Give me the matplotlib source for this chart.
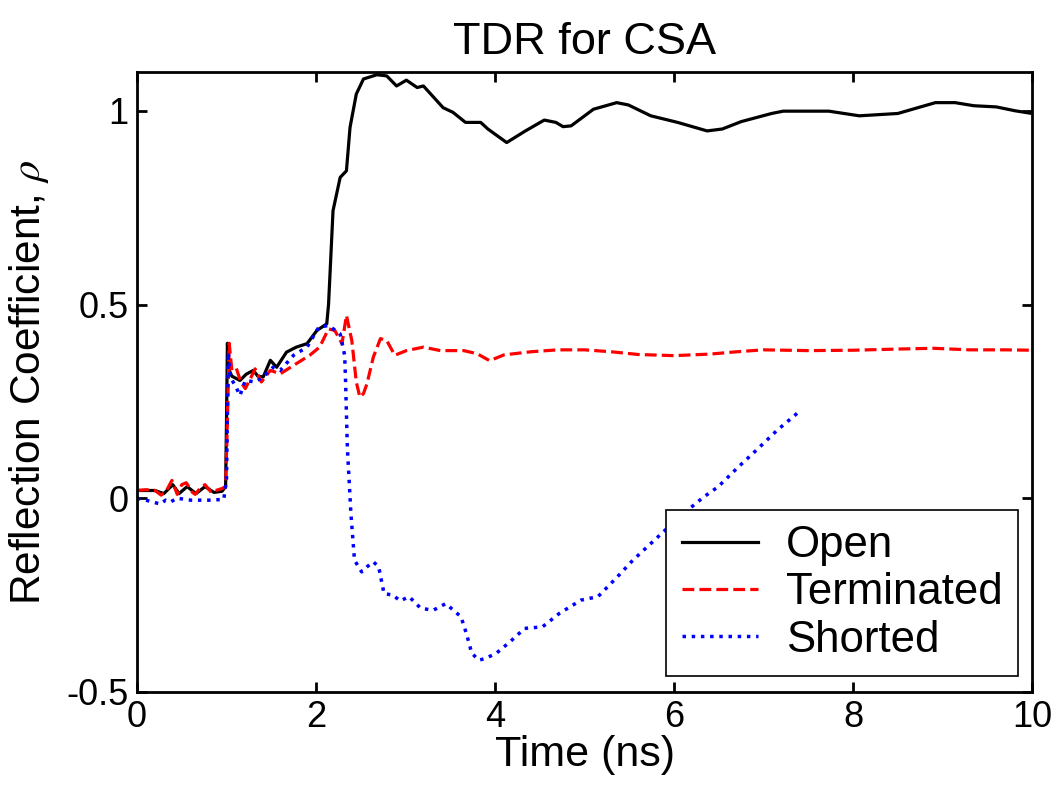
import matplotlib
matplotlib.use('Agg')
import matplotlib.pyplot as plt
import numpy as np

plt.rcParams['font.family'] = ['Liberation Sans', 'DejaVu Sans']
plt.rcParams['mathtext.fontset'] = 'stix'

# Open
t_open = [0.0, 0.2, 0.3, 0.4, 0.47, 0.56, 0.66, 0.76, 0.86, 0.95, 0.99, 1.0, 1.01, 1.03,
          1.06, 1.15, 1.22, 1.30, 1.35, 1.41, 1.49, 1.56, 1.67, 1.78, 1.90, 2.01, 2.12,
          2.14, 2.16, 2.19, 2.27, 2.34, 2.38, 2.45, 2.53, 2.68, 2.79, 2.90, 3.01, 3.13,
          3.20, 3.42, 3.53, 3.67, 3.84, 3.92, 4.13, 4.34, 4.55, 4.68, 4.76, 4.85, 5.10,
          5.36, 5.49, 5.74, 6.04, 6.37, 6.54, 6.75, 7.09, 7.22, 7.73, 8.07, 8.50, 8.92,
          9.14, 9.35, 9.60, 9.81, 10.0]
r_open = [0.02, 0.02, 0.012, 0.035, 0.012, 0.03, 0.012, 0.03, 0.015, 0.018, 0.03, 0.2, 0.40, 0.33,
          0.315, 0.304, 0.32, 0.33, 0.315, 0.313, 0.356, 0.338, 0.377, 0.39, 0.399, 0.433, 0.45,
          0.50, 0.596, 0.742, 0.828, 0.845, 0.957, 1.043, 1.082, 1.093, 1.09, 1.064, 1.079, 1.06,
          1.064, 1.008, 0.996, 0.970, 0.970, 0.953, 0.918, 0.948, 0.976, 0.970, 0.959, 0.961, 1.004,
          1.021, 1.015, 0.987, 0.970, 0.948, 0.953, 0.972, 0.993, 0.999, 0.999, 0.987, 0.993, 1.021,
          1.021, 1.013, 1.010, 1.0, 0.993]

# Terminated
t_term = [0.0, 0.1, 0.2, 0.27, 0.33, 0.39, 0.45, 0.5, 0.55, 0.62, 0.65, 0.72, 0.76, 0.83, 0.88,
          0.95, 0.99, 1.01, 1.03, 1.06, 1.11, 1.16, 1.21, 1.27, 1.32, 1.39, 1.49, 1.60, 1.75,
          1.93, 2.04, 2.14, 2.21, 2.29, 2.34, 2.40, 2.45, 2.49, 2.53, 2.57, 2.64, 2.72, 2.79,
          2.88, 3.01, 3.20, 3.39, 3.65, 3.80, 3.94, 4.1, 4.4, 4.7, 5.0, 5.3, 5.6, 6.0, 6.4,
          6.7, 7.0, 7.5, 8.0, 8.5, 8.9, 9.3, 9.7, 10.0]
r_term = [0.02, 0.022, 0.02, 0.008, 0.02, 0.046, 0.01, 0.035, 0.04, 0.015, 0.01, 0.03, 0.035, 0.015, 0.02,
          0.025, 0.03, 0.2, 0.40, 0.33, 0.335, 0.30, 0.283, 0.31, 0.334, 0.30, 0.33, 0.321, 0.343,
          0.369, 0.39, 0.437, 0.433, 0.399, 0.472, 0.407, 0.30, 0.261, 0.27, 0.296, 0.364, 0.412, 0.407,
          0.369, 0.381, 0.39, 0.381, 0.381, 0.373, 0.355, 0.370, 0.378, 0.383, 0.383, 0.378, 0.371, 0.368, 0.372,
          0.378, 0.383, 0.381, 0.382, 0.385, 0.387, 0.383, 0.383, 0.382]

# Shorted
t_short = [0.0, 0.1, 0.26, 0.32, 0.37, 0.45, 0.6, 0.8, 0.97, 1.0, 1.02, 1.04, 1.10, 1.15, 1.21,
           1.32, 1.41, 1.52, 1.60, 1.75, 1.90, 2.03, 2.14, 2.27, 2.32, 2.33, 2.35, 2.39, 2.43,
           2.51, 2.57, 2.64, 2.70, 2.76, 2.86, 2.94, 3.04, 3.17, 3.31, 3.45, 3.62, 3.68, 3.74,
           3.82, 3.90, 4.02, 4.17, 4.33, 4.53, 4.72, 4.96, 5.15, 5.35, 5.54, 5.74, 5.94, 6.13,
           6.33, 6.49, 6.72, 6.92, 7.15, 7.39]
r_short = [0.0, -0.005, -0.015, -0.005, -0.01, 0.0, -0.005, -0.005, -0.003, 0.05, 0.377, 0.313, 0.29, 0.265, 0.304,
           0.30, 0.313, 0.338, 0.33, 0.369, 0.39, 0.441, 0.446, 0.424, 0.369, 0.304, 0.132, -0.040, -0.160,
           -0.190, -0.177, -0.164, -0.177, -0.246, -0.250, -0.265, -0.254, -0.284, -0.289, -0.272, -0.306, -0.349, -0.400,
           -0.418, -0.413, -0.399, -0.370, -0.336, -0.332, -0.297, -0.263, -0.254, -0.207, -0.160, -0.117, -0.074, -0.035,
           0.003, 0.029, 0.081, 0.124, 0.175, 0.222]

fig = plt.figure(figsize=(10.62, 7.95), dpi=100)
ax = fig.add_axes([0.129, 0.1296, 0.8428, 0.7798])

ax.plot(t_open, r_open, '-', color='black', lw=2.3, label='Open')
ax.plot(t_term, r_term, '--', color='red', lw=2.3, label='Terminated')
ax.plot(t_short, r_short, ':', color='blue', lw=2.5, label='Shorted')

ax.set_xlim(0, 10)
ax.set_ylim(-0.5, 1.1)
ax.set_xticks([0, 2, 4, 6, 8, 10])
ax.set_yticks([-0.5, 0, 0.5, 1])
ax.set_yticklabels(['-0.5', '0', '0.5', '1'])
ax.tick_params(direction='in', length=7, width=2, top=True, right=True,
               labelsize=26, pad=6)
for s in ax.spines.values():
    s.set_linewidth(2)

ax.set_title('TDR for CSA', fontsize=32.5, pad=13)
ax.set_xlabel('Time (ns)', fontsize=31, labelpad=0)
ax.set_ylabel('Reflection Coefficient, $\\rho$', fontsize=30.5, labelpad=11)

leg = ax.legend(loc='lower right', bbox_to_anchor=(0.984, 0.026), borderaxespad=0,
                fontsize=31.5, handlelength=1.74, handletextpad=0.64, labelspacing=0.14,
                fancybox=False, edgecolor='black', framealpha=1, borderpad=0.35)
leg.get_frame().set_linewidth(1.2)

fig.savefig('out.png', dpi=100)
